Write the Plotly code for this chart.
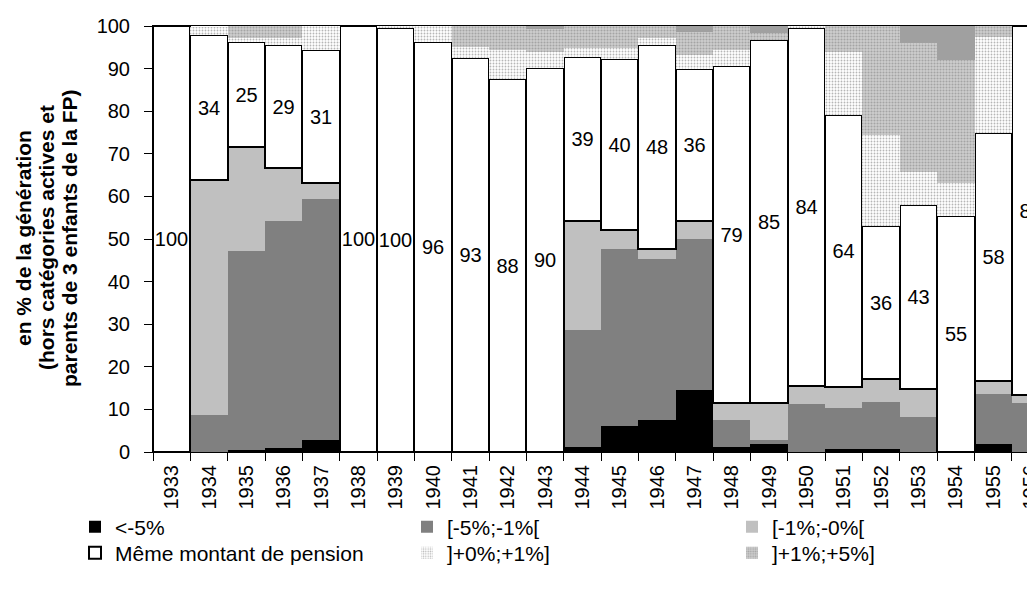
import plotly.graph_objects as go

years = [str(y) for y in range(1933, 1957)]

lt_m5 = [0, 0, 0.4, 1.0, 2.9, 0, 0, 0, 0, 0, 0, 1.2, 6.0, 7.4, 14.6, 1.2, 1.8, 0, 0.8, 0.8, 0, 0, 1.8, 0]
m5_m1 = [0, 8.8, 46.9, 53.2, 56.4, 0, 0, 0, 0, 0, 0, 27.4, 41.7, 37.8, 35.3, 6.4, 1.1, 11.2, 9.6, 10.9, 8.1, 0, 11.9, 11.5]
m1_m0 = [0, 55.0, 24.3, 12.5, 3.9, 0, 0, 0, 0, 0, 0, 25.6, 4.5, 2.5, 4.3, 3.8, 8.6, 4.2, 4.9, 5.5, 6.8, 0, 3.0, 1.8]
meme = [100, 34.2, 24.6, 28.9, 31.2, 100, 99.5, 96.3, 92.6, 87.6, 90.1, 38.6, 40.0, 47.9, 35.7, 79.3, 85.2, 84.1, 63.9, 35.9, 43.1, 55.3, 58.2, 86.7]
p0_p1 = [0, 1.8, 1.0, 1.5, 5.6, 0, 0.5, 3.7, 2.4, 6.7, 3.7, 2.0, 2.6, 1.5, 3.3, 3.6, 0, 0.5, 14.7, 21.2, 7.7, 7.8, 22.5, 0]
p1_p5 = [0, 0, 2.9, 2.9, 0, 0, 0, 0, 5.0, 5.7, 5.5, 5.2, 5.2, 2.9, 5.3, 5.7, 1.7, 0, 6.1, 25.7, 30.3, 29.0, 2.6, 0]
gt_p5 = [0, 0, 0, 0, 0, 0, 0, 0, 0, 0, 0.7, 0, 0, 0, 1.5, 0, 1.5, 0, 0, 0, 4.0, 7.9, 0, 0]

meme_labels = [str(int(round(v))) for v in meme]

title_lines = ["en % de la génération",
               "(hors catégories actives et",
               "parents de 3 enfants de la FP)"]

FONT = "Arial, Liberation Sans, sans-serif"

fig = go.Figure()

def add(name, vals, legend, marker, **kw):
    fig.add_trace(go.Bar(x=years, y=vals, name=name, legend=legend, marker=marker,
                         hoverinfo="skip", **kw))

add("<-5%", lt_m5, "legend", dict(color="black", line=dict(width=0)))
add("[-5%;-1%[", m5_m1, "legend2", dict(color="#808080", line=dict(width=0)))
add("[-1%;-0%[", m1_m0, "legend3", dict(color="#c0c0c0", line=dict(width=0)))
add("Même montant de pension", meme, "legend4",
    dict(color="white", line=dict(width=2, color="black")),
    text=meme_labels, textposition="inside", insidetextanchor="middle",
    textangle=0, constraintext="none",
    textfont=dict(family=FONT, size=20, color="black"))
add("]+0%;+1%]", p0_p1, "legend5",
    dict(color="white", line=dict(width=0),
         pattern=dict(shape=".", fgcolor="#6e6e6e", bgcolor="white", size=3, solidity=0.3)))
add("]+1%;+5%]", p1_p5, "legend6",
    dict(color="#cfcfcf", line=dict(width=0),
         pattern=dict(shape=".", fgcolor="#7a7a7a", bgcolor="#cfcfcf", size=3, solidity=0.4)))
fig.add_trace(go.Bar(x=years, y=gt_p5, name=">+5%", showlegend=False, hoverinfo="skip",
                     marker=dict(color="#a0a0a0", line=dict(width=0))))

# page body has an 8px margin; figure coordinates are offset by it
OFF = 8
W, H = 1035 - OFF, 601 - OFF
PL, PT, PB = 153 - OFF, 26 - OFF, 149
PW = W - PL

def leg(px, py):
    return dict(x=(px - OFF) / W, y=1 - (py - OFF) / H, xref="container", yref="container",
                xanchor="left", yanchor="middle", orientation="h",
                font=dict(family=FONT, size=21, color="black"),
                bgcolor="rgba(0,0,0,0)", itemwidth=30, borderwidth=0)

anns = []
for line, cx in zip(title_lines, [24, 47, 70]):
    anns.append(dict(text=line, xref="paper", yref="paper",
                     x=(cx - 153) / PW, y=(452 - 238) / 426, textangle=-90,
                     xanchor="center", yanchor="middle", showarrow=False,
                     font=dict(family=FONT, size=21, color="black", weight="bold")))

fig.update_layout(
    barmode="stack", bargap=0,
    width=W, height=H,
    margin=dict(l=PL, r=0, t=PT, b=PB, autoexpand=False),
    plot_bgcolor="white", paper_bgcolor="white",
    font=dict(family=FONT, size=20, color="black"),
    legend=leg(75, 527), legend2=leg(407, 527), legend3=leg(732, 527),
    legend4=leg(75, 553), legend5=leg(407, 553), legend6=leg(732, 553),
    xaxis=dict(type="category", range=[-0.5, 23.12], tickangle=-90,
               tickson="boundaries", ticks="outside", ticklen=8, tickcolor="black",
               ticklabelstandoff=4,
               showline=True, linecolor="black", linewidth=1, mirror=True,
               showgrid=False, tickfont=dict(family=FONT, size=20)),
    yaxis=dict(range=[0, 100], dtick=10, ticks="outside", ticklen=8, tickcolor="black",
               ticklabelstandoff=10,
               showline=True, linecolor="black", linewidth=1, showgrid=False,
               zeroline=False, tickfont=dict(family=FONT, size=20)),
    annotations=anns,
)

fig.write_html("out.html")
